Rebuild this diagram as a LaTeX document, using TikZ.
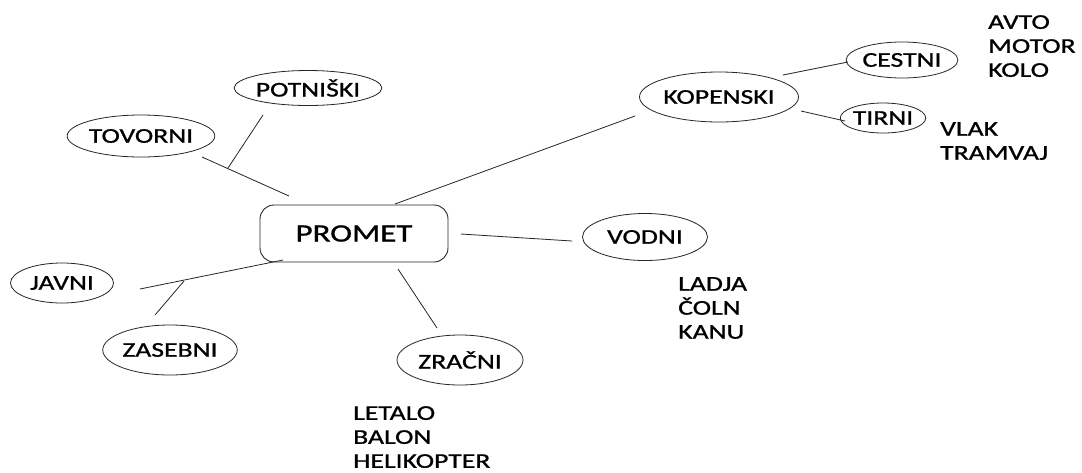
\documentclass[tikz,border=0pt]{standalone}
\usepackage{fontspec}
\setmainfont{Carlito}[FakeStretch=1.32,FakeBold=1]
\usetikzlibrary{shapes.geometric}
\begin{document}
\begin{tikzpicture}[x=1pt,y=-1pt,
  oval/.style={draw=black!85,line width=0.8pt,ellipse,inner sep=0pt,font=\fontsize{21}{24}\selectfont},
  mainbox/.style={draw=black!85,line width=0.9pt,rounded corners=14pt,minimum width=188pt,minimum height=57pt,inner sep=0pt,font=\fontsize{25}{28}\selectfont},
  link/.style={draw=black!85,line width=0.8pt},
  listtext/.style={anchor=north west,inner sep=0pt,align=left,font=\fontsize{21}{24}\selectfont}]
\useasboundingbox (0,0) rectangle (1082,472);
\fill[white] (0,0) rectangle (1082,472);

\node[mainbox] (promet) at (354,233.5) {PROMET};
\node[oval,minimum width=124pt,minimum height=35pt] (potniski) at (308,88) {POTNIŠKI};
\node[oval,minimum width=145pt,minimum height=42pt] (tovorni) at (141,136) {TOVORNI};
\node[oval,minimum width=159pt,minimum height=50pt] (kopenski) at (719,97) {KOPENSKI};
\node[oval,minimum width=102pt,minimum height=36pt] (cestni) at (902,60) {CESTNI};
\node[oval,minimum width=80pt,minimum height=30pt] (tirni) at (883,118) {TIRNI};
\node[oval,minimum width=125pt,minimum height=47pt] (vodni) at (645,237) {VODNI};
\node[oval,minimum width=103pt,minimum height=40pt] (javni) at (62,283) {JAVNI};
\node[oval,minimum width=109pt,minimum height=50pt] (zasebni) at (170,350) {ZASEBNI};
\node[oval,minimum width=126pt,minimum height=50pt] (zracni) at (460,360) {ZRAČNI};

\node[listtext] (l1) at (988,15) {AVTO\\MOTOR\\KOLO};
\node[listtext] (l2) at (940,122) {VLAK\\TRAMVAJ};
\node[listtext] (l3) at (678,277) {LADJA\\ČOLN\\KANU};
\node[listtext] (l4) at (353,406) {LETALO\\BALON\\HELIKOPTER};

\coordinate (t1) at (202,157);
\coordinate (t2) at (289,196);
\coordinate (p1) at (263,115);
\coordinate (p2) at (228,168);
\coordinate (k1) at (395,204);
\coordinate (k2) at (635,116);
\coordinate (c1) at (783,75);
\coordinate (c2) at (848,62);
\coordinate (r1) at (801,111);
\coordinate (r2) at (845,121);
\coordinate (v1) at (461,234);
\coordinate (v2) at (572,241);
\coordinate (j1) at (140,289);
\coordinate (j2) at (283,260);
\coordinate (z1) at (184,281);
\coordinate (z2) at (155,315);
\coordinate (a1) at (398,269);
\coordinate (a2) at (437,328);

\draw[link] (t1) -- (t2);
\draw[link] (p1) -- (p2);
\draw[link] (k1) -- (k2);
\draw[link] (c1) -- (c2);
\draw[link] (r1) -- (r2);
\draw[link] (v1) -- (v2);
\draw[link] (j1) -- (j2);
\draw[link] (z1) -- (z2);
\draw[link] (a1) -- (a2);
\end{tikzpicture}
\end{document}
